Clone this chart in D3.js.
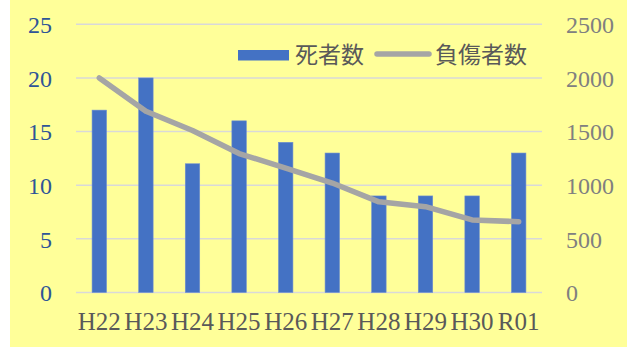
<!DOCTYPE html>
<html><head><meta charset="utf-8">
<script src="https://cdn.jsdelivr.net/npm/d3@7"></script>
<style>
html,body{margin:0;padding:0;background:#fff;}
svg{display:block;}
.serif text, text.serif{font-family:"Liberation Serif","DejaVu Serif",serif;}
.cjk{font-family:"Noto Sans CJK JP",sans-serif;}
</style></head>
<body>
<svg id="chart" width="633" height="347"></svg>
<script>
const categories = ["H22","H23","H24","H25","H26","H27","H28","H29","H30","R01"];
const deaths = [17,20,12,16,14,13,9,9,9,13];
const injuries = [2000,1690,1510,1295,1160,1020,845,800,676,660];
const leftTicks = [0,5,10,15,20,25];
const rightTicks = [0,500,1000,1500,2000,2500];
const seriesNames = ["死者数","負傷者数"];

const svg = d3.select("#chart");
svg.append("rect").attr("x",10).attr("y",0).attr("width",617).attr("height",347).attr("fill","#FFFF99");

const m = {left:76, right:542, top:24.3, bottom:292.5};
const x = d3.scaleBand().domain(categories).range([m.left,m.right]).paddingInner(0.69).paddingOuter(0.345);
const xc = d3.scaleBand().domain(categories).range([m.left,m.right]);
const yL = d3.scaleLinear().domain([0,25]).range([m.bottom,m.top]);
const yR = d3.scaleLinear().domain([0,2500]).range([m.bottom,m.top]);

// gridlines
svg.append("g").selectAll("line").data(leftTicks).join("line")
  .attr("x1",m.left).attr("x2",m.right)
  .attr("y1",d=>yL(d)).attr("y2",d=>yL(d))
  .attr("stroke","#D9D9D9").attr("stroke-width",1.5);

// left axis
const gL = svg.append("g").attr("class","serif").attr("transform",`translate(${m.left},0)`)
  .call(d3.axisLeft(yL).tickValues(leftTicks).tickFormat(d3.format("d")).tickSize(0).tickPadding(24));
gL.select(".domain").remove();
gL.attr("font-family",null).attr("font-size",null);
gL.selectAll("text").style("font-size","24px").attr("fill","#2F5597").attr("dy","0.34em");

// right axis
const gR = svg.append("g").attr("class","serif").attr("transform",`translate(${m.right},0)`)
  .call(d3.axisRight(yR).tickValues(rightTicks).tickFormat(d3.format("d")).tickSize(0).tickPadding(24));
gR.select(".domain").remove();
gR.attr("font-family",null).attr("font-size",null);
gR.selectAll("text").style("font-size","24px").attr("fill","#808080").attr("dy","0.34em");

// bars
svg.append("g").selectAll("rect").data(categories).join("rect")
  .attr("x",d=>x(d)).attr("width",x.bandwidth())
  .attr("y",(d,i)=>yL(deaths[i])).attr("height",(d,i)=>yL(0)-yL(deaths[i]))
  .attr("fill","#4472C4").attr("stroke","#6F8FCF").attr("stroke-width",0.6);

// line
const line = d3.line().x((d,i)=>xc(categories[i])+xc.bandwidth()/2).y(d=>yR(d));
svg.append("path").datum(injuries).attr("d",line)
  .attr("fill","none").attr("stroke","#A5A5A5").attr("stroke-width",5.5)
  .attr("stroke-linecap","round").attr("stroke-linejoin","round");

// x axis labels
const gX = svg.append("g").attr("class","serif").attr("transform",`translate(0,${m.bottom})`)
  .call(d3.axisBottom(xc).tickSize(0).tickPadding(20));
gX.select(".domain").remove();
gX.attr("font-family",null).attr("font-size",null);
gX.selectAll("text").style("font-size","25px").attr("fill","#595959").attr("dy","0.71em");

// legend
const lg = svg.append("g");
lg.append("rect").attr("x",238).attr("y",50).attr("width",51).attr("height",10.5).attr("fill","#4472C4");
lg.append("text").attr("class","cjk").attr("x",295).attr("y",63).text(seriesNames[0])
  .style("font-size","23px").attr("fill","#595959");
lg.append("line").attr("x1",377).attr("x2",429).attr("y1",54).attr("y2",54)
  .attr("stroke","#A5A5A5").attr("stroke-width",5.5).attr("stroke-linecap","round");
lg.append("text").attr("class","cjk").attr("x",435).attr("y",63).text(seriesNames[1])
  .style("font-size","23px").attr("fill","#595959");
</script>
</body></html>
